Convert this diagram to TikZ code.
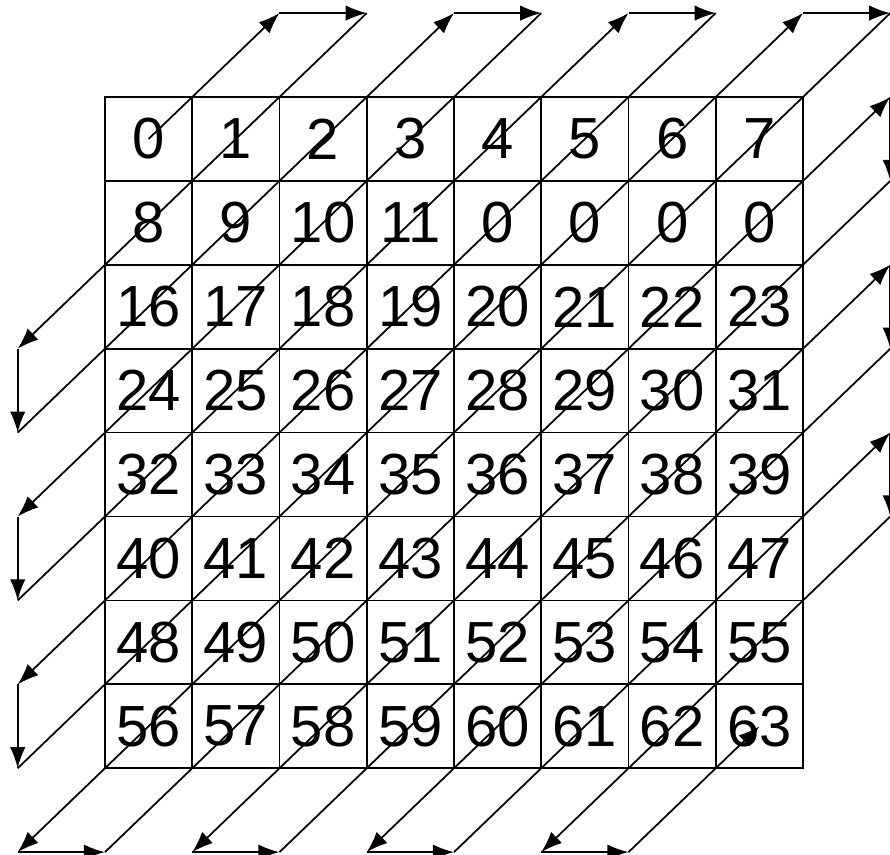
\documentclass[tikz,border=0pt]{standalone}
\usepackage{fontspec}
\setmainfont{Liberation Sans}
\usetikzlibrary{arrows.meta}
\begin{document}
\begin{tikzpicture}[x=0.8725cm,y=0.839cm,
  cell/.style={draw,line width=0.5pt,minimum width=0.8725cm,minimum height=0.839cm,inner sep=0pt,font=\fontsize{16.5}{18}\selectfont},
  arr/.style={line width=0.5pt,-{Latex[length=6pt,width=4.4pt]}}]
\useasboundingbox (-1.203,1.156) rectangle (8.997,-9.03);
% cells
\foreach \r in {0,...,7}{
  \foreach \c in {0,...,7}{
    \pgfmathtruncatemacro{\k}{8*\r+\c}
    \pgfmathtruncatemacro{\lab}{(\k>=12 && \k<=15) ? 0 : \k}
    \node[cell] (n\k) at (\c+0.5,-\r-0.5) {\lab};
  }
}
% outer turning points
\foreach \k in {2,...,9} \coordinate (t\k) at (\k,1);
\foreach \k in {3,...,9} \coordinate (l\k) at (-1,-\k);
\foreach \k in {0,...,6} \coordinate (b\k) at (\k,-9);
\foreach \k in {0,...,5} \coordinate (r\k) at (9,-\k);
% zigzag
\draw[arr] (n0.center) -- (t2);
\draw[arr] (t2) -- (t3);
\draw[arr] (t3) -- (l3);
\draw[arr] (l3) -- (l4);
\draw[arr] (l4) -- (t4);
\draw[arr] (t4) -- (t5);
\draw[arr] (t5) -- (l5);
\draw[arr] (l5) -- (l6);
\draw[arr] (l6) -- (t6);
\draw[arr] (t6) -- (t7);
\draw[arr] (t7) -- (l7);
\draw[arr] (l7) -- (l8);
\draw[arr] (l8) -- (t8);
\draw[arr] (t8) -- (t9);
\draw[arr] (t9) -- (l9);
\draw[arr] (l9) -- (b0);
\draw[arr] (b0) -- (r0);
\draw[arr] (r0) -- (r1);
\draw[arr] (r1) -- (b1);
\draw[arr] (b1) -- (b2);
\draw[arr] (b2) -- (r2);
\draw[arr] (r2) -- (r3);
\draw[arr] (r3) -- (b3);
\draw[arr] (b3) -- (b4);
\draw[arr] (b4) -- (r4);
\draw[arr] (r4) -- (r5);
\draw[arr] (r5) -- (b5);
\draw[arr] (b5) -- (b6);
\draw[arr] (b6) -- (n63.center);
\end{tikzpicture}
\end{document}
